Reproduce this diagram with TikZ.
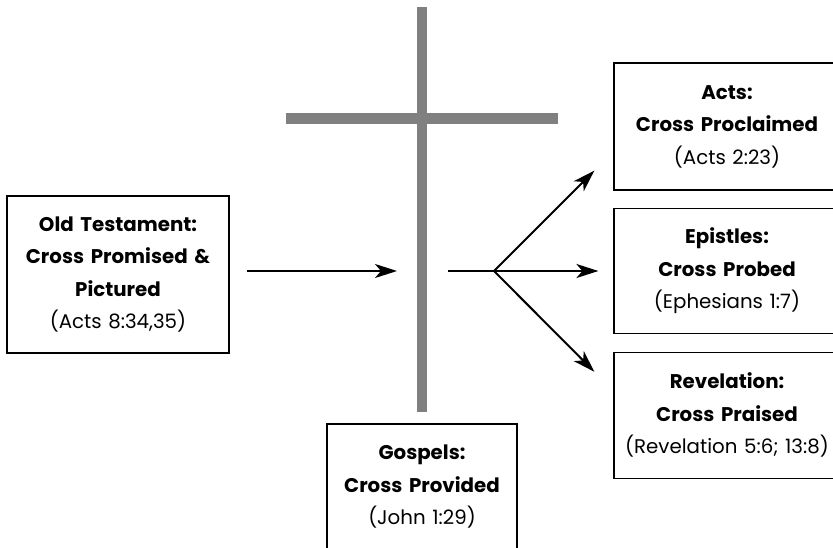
\documentclass[tikz,border=0pt]{standalone}
\usepackage{fontspec}
\setmainfont{Poppins}
\usetikzlibrary{positioning,arrows.meta}
\tikzstyle{block} = [rectangle, draw=black, line width=1.2pt, fill=white, text width=214pt, align=center, minimum width=222pt, inner sep=4pt, font=\fontsize{19.8}{32.5}\selectfont]
\tikzstyle{arrow} = [line width=2pt, -{Stealth[length=22pt,width=14pt,inset=6pt]}]
\tikzstyle{beam} = [draw=gray, line width=10.5pt]

\begin{document}
\begin{tikzpicture}[x=1pt, y=-1pt]
    \useasboundingbox (0,0) rectangle (833,548);
    % The cross
    \draw [beam] (422,7) -- (422,412);
    \draw [beam] (286,118.5) -- (558,118.5);

    % Place nodes
    \node [block, minimum height=157pt] (old) at (118,274.5) {{\bfseries Old Testament:\\ Cross Promised \&\\ Pictured}\\ (Acts 8:34,35)};
    \node [block, minimum width=190pt, text width=182pt, minimum height=126pt] (gospels) at (422,487) {{\bfseries Gospels:\\ Cross Provided}\\ (John 1:29)};
    \node [block, minimum width=226pt, minimum height=127pt] (acts) at (727,126.5) {{\bfseries Acts:\\ Cross Proclaimed}\\ (Acts 2:23)};
    \node [block, minimum width=226pt, minimum height=125pt, below=17pt of acts] (epistles) {{\bfseries Epistles:\\ Cross Probed}\\ (Ephesians 1:7)};
    \node [block, minimum width=226pt, minimum height=126pt, below=18pt of epistles] (revelation) {{\bfseries Revelation:\\ Cross Praised}\\ (Revelation 5:6; 13:8)};

    % Arrows round the cross
    \coordinate (cin) at (397,271);
    \coordinate (cout) at (448,271);
    \coordinate (split) at (494,271);
    \coordinate (oldout) at ([xshift=17pt]old.east);

    \draw [arrow] (oldout |- cin) -- (cin);
    \draw [line width=2pt] (cout) -- (split);
    \draw [arrow] (split) -- ([shift={(-19,-20)}]acts.south west);
    \draw [arrow] (split) -- ([xshift=-15pt]epistles.west |- split);
    \draw [arrow] (split) -- ([shift={(-19,20)}]revelation.north west);
\end{tikzpicture}
\end{document}
